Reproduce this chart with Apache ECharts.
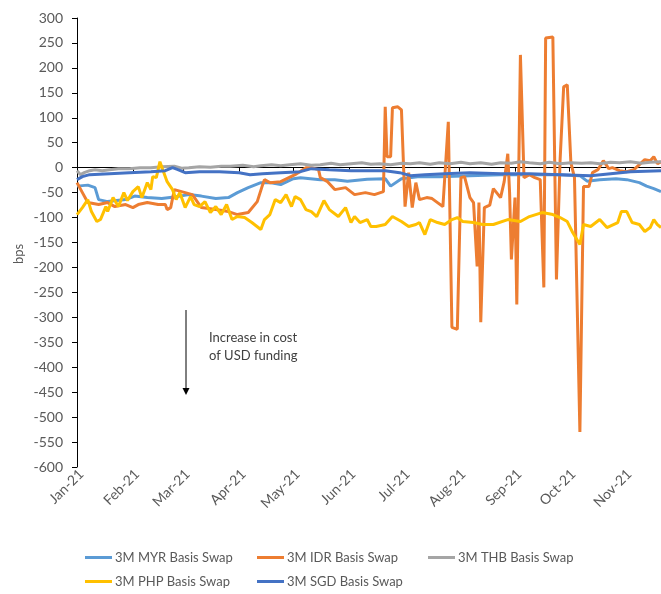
<!DOCTYPE html>
<html>
<head>
<meta charset="utf-8">
<title>3M basis swaps</title>
<script src="https://cdn.jsdelivr.net/npm/echarts@6.0.0/dist/echarts.min.js"></script>
<style>
  html, body { margin: 0; padding: 0; background: #fff; }
  #chart { width: 661px; height: 594px; }
</style>
</head>
<body>
<div id="chart"></div>
<script>
// x values are days counted from 1 Jan 2021 (day 0)
const lastDay = 324;
const monthLabels = ['Jan-21', 'Feb-21', 'Mar-21', 'Apr-21', 'May-21', 'Jun-21',
  'Jul-21', 'Aug-21', 'Sep-21', 'Oct-21', 'Nov-21'];

const myrDays = [0, 6, 10, 12, 17, 27, 32, 39, 47, 54, 62, 69, 77, 84, 89, 95, 102, 107, 113, 120,
  124, 135, 143, 150, 161, 171, 174, 180, 189, 201, 218, 235, 251, 268, 279, 283, 290, 299, 305,
  312, 316, 320, 324];
const myrValues = [-37, -35, -40, -64, -68, -64, -57, -60, -62, -59, -54, -57, -62, -60, -50, -40,
  -30, -30, -34, -22, -20, -24, -24, -27, -23, -22, -37, -22, -18, -18, -16, -14, -14, -14, -16,
  -27, -24, -22, -24, -30, -37, -42, -48];

const idrDays = [0, 3, 6, 12, 17, 21, 27, 31, 34, 39, 45, 49, 50, 52, 54, 60, 64, 69, 77, 84, 89,
  95, 100, 103, 104, 107, 113, 121, 127, 130, 134, 135, 139, 143, 149, 154, 160, 165, 170, 171,
  172, 174, 175, 178, 180, 182, 184, 186, 188, 190, 194, 197, 200, 203, 206, 208, 211, 213, 215,
  218, 220, 222, 223, 224, 226, 229, 231, 235, 237, 239, 240, 241, 243, 244, 246, 248, 251, 254,
  257, 259, 260, 264, 265, 266, 268, 270, 272, 274, 276, 279, 281, 284, 286, 289, 292, 295, 297,
  301, 305, 309, 312, 315, 318, 320, 322, 324];
const idrValues = [-30, -50, -70, -74, -70, -78, -74, -80, -74, -70, -74, -74, -84, -80, -44, -50,
  -54, -80, -84, -88, -94, -90, -68, -34, -24, -30, -28, -14, 0, 0, -4, -20, -28, -44, -40, -54,
  -50, -54, -48, 122, 22, 22, 120, 122, 116, -78, -10, -80, -30, -64, -60, -62, -70, -78, 92,
  -320, -324, -20, -18, -60, -70, -198, -70, -310, -80, -75, -42, -60, -28, 28, -50, -184, -60,
  -274, 226, -20, -14, -20, -24, -240, 260, 262, 266, -224, 14, 162, 166, 10, -20, -530, -38, -38,
  -10, -4, 14, -2, 0, -6, -8, -4, 6, 16, 14, 22, 8, 12];

const thbDays = [0, 2, 4, 7, 10, 14, 18, 23, 29, 35, 41, 47, 54, 58, 62, 68, 74, 80, 85, 92, 98,
  102, 108, 113, 118, 124, 130, 135, 141, 146, 152, 158, 163, 168, 174, 180, 185, 190, 196, 201,
  207, 213, 218, 224, 230, 235, 241, 246, 251, 257, 262, 268, 274, 280, 285, 290, 296, 301, 307,
  313, 318, 324];
const thbValues = [-6, -14, -10, -6, -4, -6, -4, -2, -2, 0, 0, 2, 3, -1, 0, 2, 1, 3, 3, 5, 2, 4,
  6, 4, 6, 8, 5, 6, 9, 6, 8, 10, 7, 8, 6, 9, 8, 10, 7, 10, 8, 11, 8, 10, 7, 10, 9, 12, 10, 8, 11,
  8, 10, 9, 10, 8, 11, 10, 12, 9, 11, 12];

const phpDays = [0, 3, 6, 8, 11, 13, 16, 17, 20, 23, 26, 28, 31, 34, 36, 39, 41, 42, 44, 46, 48,
  50, 53, 55, 57, 60, 63, 65, 68, 71, 74, 77, 80, 83, 86, 89, 93, 97, 102, 104, 107, 110, 113,
  116, 119, 121, 124, 127, 130, 133, 137, 140, 145, 149, 152, 154, 157, 161, 163, 166, 171, 175,
  180, 184, 188, 190, 193, 196, 200, 204, 208, 211, 214, 220, 225, 231, 239, 246, 251, 258, 264,
  268, 272, 275, 279, 281, 285, 290, 294, 300, 302, 305, 308, 312, 315, 318, 320, 322, 324];
const phpValues = [-94, -80, -64, -88, -108, -104, -78, -88, -60, -78, -50, -66, -48, -38, -60,
  -30, -44, -18, -20, 12, -8, -28, -44, -64, -50, -80, -58, -74, -78, -68, -90, -78, -94, -74,
  -104, -98, -100, -110, -124, -104, -94, -64, -70, -54, -78, -58, -64, -84, -88, -98, -66, -84,
  -98, -80, -110, -98, -110, -104, -118, -118, -114, -98, -108, -118, -114, -110, -134, -104,
  -110, -114, -104, -100, -108, -110, -114, -114, -104, -108, -98, -90, -94, -100, -108, -130,
  -154, -114, -118, -104, -120, -110, -88, -88, -110, -114, -128, -120, -104, -114, -120];

const sgdDays = [0, 3, 7, 18, 29, 41, 49, 53, 56, 60, 68, 79, 90, 96, 103, 113, 124, 130, 140,
  152, 171, 179, 185, 193, 204, 218, 235, 251, 268, 285, 296, 307, 324];
const sgdValues = [-24, -18, -14, -12, -10, -8, -6, 0, -4, -10, -8, -8, -10, -14, -12, -10, -8,
  -2, -4, -6, -6, -10, -16, -14, -12, -10, -12, -12, -14, -16, -12, -8, -6];

const seriesNames = ['3M MYR Basis Swap', '3M IDR Basis Swap', '3M THB Basis Swap',
  '3M PHP Basis Swap', '3M SGD Basis Swap'];
const seriesColors = ['#5B9BD5', '#ED7D31', '#A5A5A5', '#FFC000', '#4472C4'];
const seriesDays = [myrDays, idrDays, thbDays, phpDays, sgdDays];
const seriesValues = [myrValues, idrValues, thbValues, phpValues, sgdValues];

// one category per calendar day
const dates = [];
for (let i = 0; i <= lastDay; i++) {
  dates.push(new Date(Date.UTC(2021, 0, 1) + i * 86400000).toISOString().slice(0, 10));
}
const isMonthStart = function (index, value) { return value.slice(8) === '01'; };

const font = 'Lato';
const textColor = '#595959';

let chart = echarts.init(document.getElementById('chart'), null, { renderer: 'canvas' });

let series = seriesNames.map(function (name, k) {
  return {
    name: name,
    type: 'line',
    xAxisIndex: 0,
    symbol: 'none',
    animation: false,
    lineStyle: { width: 3, color: seriesColors[k] },
    itemStyle: { color: seriesColors[k] },
    data: seriesDays[k].map(function (d, i) { return [d, seriesValues[k][i]]; })
  };
});

// legend columns, placed like the original two-row layout
const legendPos = [[80, 546], [252, 546], [423, 546], [80, 570], [252, 570]];
let legends = seriesNames.map(function (name, k) {
  return {
    data: [name],
    left: legendPos[k][0],
    top: legendPos[k][1],
    icon: 'rect',
    itemWidth: 27,
    itemHeight: 3,
    textStyle: { fontFamily: font, fontSize: 13, color: textColor, padding: [0, 0, 0, -2] }
  };
});

let option = {
  animation: false,
  backgroundColor: '#fff',
  grid: { left: 77, top: 18, right: 0, bottom: 127, outerBoundsMode: 'none' },
  legend: legends,
  xAxis: [
    {
      type: 'category',
      data: dates,
      boundaryGap: false,
      axisLine: { show: false, onZero: false },
      axisTick: { show: false },
      axisLabel: {
        interval: isMonthStart,
        rotate: 45,
        margin: 9,
        fontFamily: font,
        fontSize: 14,
        color: textColor,
        padding: [0, -6, 0, 0],
        formatter: function (v) { return monthLabels[parseInt(v.slice(5, 7), 10) - 1]; }
      },
      splitLine: { show: false }
    },
    {
      // the zero line with month ticks
      type: 'category',
      data: dates,
      position: 'top',
      boundaryGap: false,
      axisLine: { show: true, onZero: true, lineStyle: { color: '#000', width: 1 } },
      axisTick: { show: true, inside: true, length: 4, interval: isMonthStart, lineStyle: { color: '#000' } },
      axisLabel: { show: false },
      splitLine: { show: false }
    }
  ],
  yAxis: {
    type: 'value',
    min: -600,
    max: 300,
    interval: 50,
    axisLine: { show: true, lineStyle: { color: '#000', width: 1 } },
    axisTick: { show: true, length: 5, lineStyle: { color: '#000' } },
    axisLabel: { margin: 14, fontFamily: font, fontSize: 14, color: textColor },
    splitLine: { show: false }
  },
  graphic: [
    {
      type: 'text', x: 19, y: 254, rotation: Math.PI / 2,
      style: { text: 'bps', fontFamily: font, fontSize: 13, fill: textColor, align: 'center', verticalAlign: 'middle' }
    },
    {
      type: 'line', shape: { x1: 186, y1: 310, x2: 186, y2: 389 },
      style: { stroke: '#000', lineWidth: 1 }
    },
    {
      type: 'polygon', shape: { points: [[182.5, 388], [189.5, 388], [186, 395]] },
      style: { fill: '#000' }
    },
    {
      type: 'text', x: 209, y: 338,
      style: { text: 'Increase in cost', fontFamily: font, fontSize: 13, fill: '#404040', verticalAlign: 'middle' }
    },
    {
      type: 'text', x: 209, y: 356,
      style: { text: 'of USD funding', fontFamily: font, fontSize: 13, fill: '#404040', verticalAlign: 'middle' }
    }
  ],
  series: series
};
chart.setOption(option);
window.addEventListener('resize', function () { chart.resize(); });
</script>
</body>
</html>
